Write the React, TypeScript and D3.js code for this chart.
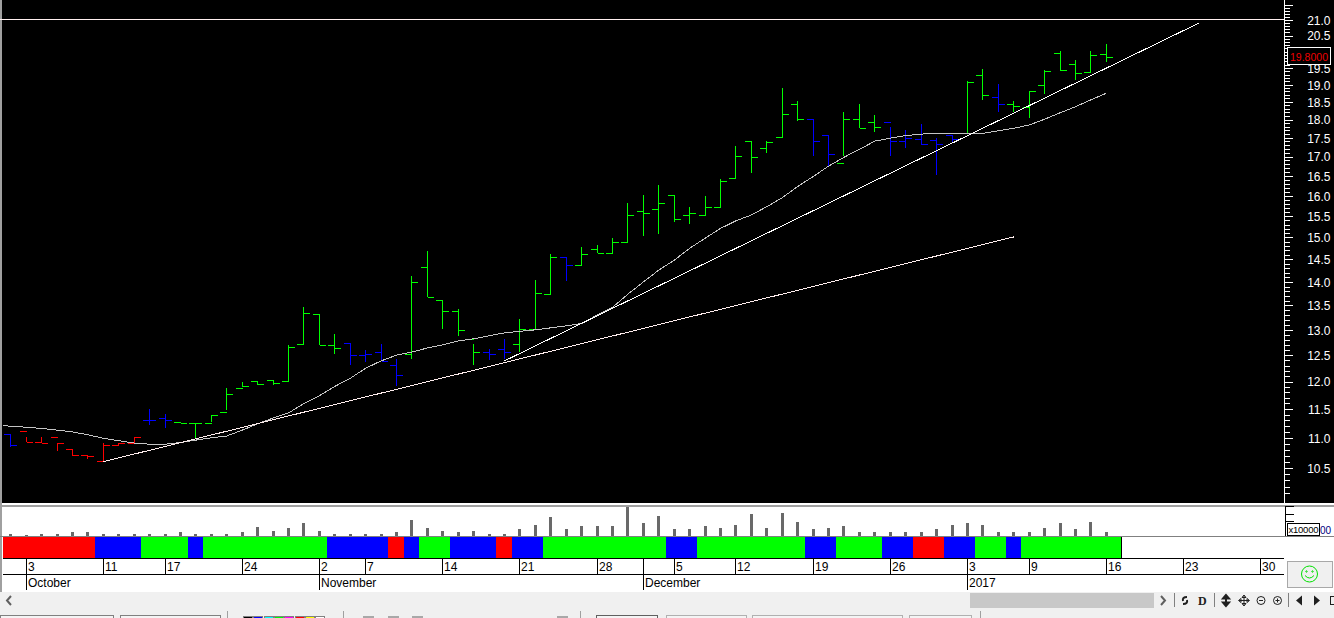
import React, { useEffect, useRef } from 'react';
import * as d3 from 'd3';

const W = 1334;
const H = 618;

// Daily bars, left to right
const opens = [11.06, 11.11, 10.92, 11.01, 10.81, 10.71, 10.61, 10.87, 10.91, 11.3, 11.34, 11.27, 11.25, 11.24, 11.43, 11.88, 12.0, 12.02, 12.0, 12.71, 13.32, 12.69, 12.72, 12.5, 12.56, 12.31, 12.52, 14.32, 13.61, 13.38, 12.8, 12.56, 12.61, 12.71, 13.01, 13.74, 14.55, 14.35, 14.71, 14.64, 14.87, 15.62, 15.67, 16.01, 15.52, 15.52, 15.72, 16.42, 17.41, 17.22, 17.51, 18.43, 18.01, 17.56, 16.82, 18.01, 17.93, 17.93, 17.41, 17.46, 17.43, 17.57, 17.62, 19.28, 18.64, 18.42, 18.35, 18.98, 19.93, 19.61, 19.35, 19.91];
const highs = [11.06, 11.01, 11.01, 10.91, 10.81, 10.71, 10.91, 10.91, 11.01, 11.5, 11.41, 11.27, 11.25, 11.4, 11.88, 12.0, 12.0, 12.02, 12.69, 13.46, 13.32, 12.92, 12.72, 12.6, 12.72, 12.42, 14.12, 14.69, 13.61, 13.42, 12.72, 12.62, 12.81, 13.22, 14.04, 14.62, 14.55, 14.77, 14.82, 14.98, 15.82, 16.02, 16.27, 16.01, 15.72, 15.99, 16.42, 17.28, 17.41, 17.42, 18.9, 18.52, 18.01, 17.56, 18.21, 18.43, 18.12, 17.79, 17.71, 17.87, 17.49, 17.57, 19.11, 19.47, 19.02, 18.52, 18.82, 19.44, 20.01, 19.73, 20.01, 20.24];
const lows = [10.84, 10.92, 10.91, 10.77, 10.7, 10.65, 10.61, 10.87, 10.91, 11.22, 11.17, 11.25, 10.99, 11.28, 11.48, 11.89, 11.94, 11.93, 12.0, 12.71, 12.69, 12.52, 12.31, 12.36, 12.38, 11.92, 12.43, 13.67, 13.02, 12.88, 12.32, 12.41, 12.42, 12.56, 13.02, 13.74, 14.03, 14.35, 14.64, 14.64, 14.87, 15.04, 15.09, 15.35, 15.32, 15.52, 15.72, 16.42, 16.58, 17.1, 17.51, 17.95, 17.02, 16.74, 17.01, 17.76, 17.65, 17.02, 17.23, 17.31, 16.52, 17.35, 17.62, 18.54, 18.22, 18.22, 18.05, 18.74, 19.4, 19.15, 19.35, 19.69];
const closes = [10.87, 10.92, 10.91, 10.91, 10.71, 10.69, 10.87, 10.91, 11.01, 11.3, 11.3, 11.25, 11.24, 11.39, 11.77, 11.91, 11.95, 11.97, 12.65, 13.34, 12.69, 12.63, 12.5, 12.52, 12.38, 12.12, 13.99, 13.67, 13.38, 12.99, 12.56, 12.52, 12.56, 13.01, 13.76, 14.55, 14.36, 14.61, 14.64, 14.87, 15.52, 15.57, 15.81, 15.43, 15.57, 15.72, 16.36, 17.01, 16.98, 17.38, 18.15, 18.01, 17.41, 17.05, 18.01, 17.76, 17.79, 17.41, 17.49, 17.32, 17.33, 17.46, 19.05, 18.69, 18.42, 18.38, 18.79, 19.4, 19.42, 19.32, 19.88, 19.82];
const barRuns: [number, string][] = [[1, 'blue'], [8, 'red'], [2, 'blue'], [11, 'green'], [4, 'blue'], [5, 'green'], [2, 'blue'], [3, 'green'], [1, 'blue'], [15, 'green'], [2, 'blue'], [3, 'green'], [5, 'blue'], [2, 'green'], [1, 'blue'], [7, 'green']];

// Moving average, first value sits one bar before the first bar
const maValues = [11.21, 11.2, 11.18, 11.16, 11.13, 11.1, 11.05, 10.99, 10.95, 10.91, 10.89, 10.89, 10.92, 10.96, 11.0, 11.03, 11.13, 11.24, 11.34, 11.43, 11.6, 11.74, 11.91, 12.06, 12.25, 12.39, 12.5, 12.56, 12.64, 12.7, 12.78, 12.82, 12.88, 12.94, 12.97, 13.0, 13.04, 13.08, 13.13, 13.3, 13.46, 13.74, 14.0, 14.26, 14.48, 14.75, 14.98, 15.21, 15.39, 15.53, 15.73, 15.95, 16.23, 16.48, 16.75, 16.98, 17.19, 17.41, 17.49, 17.56, 17.6, 17.62, 17.63, 17.62, 17.62, 17.69, 17.76, 17.85, 18.01, 18.19, 18.36, 18.56, 18.75];

// Trend lines as [bar index, price]
const trendLower: [number, number][] = [[6, 10.6], [65, 15.01]];
const trendUpper: [number, number][] = [[32, 12.39], [77, 20.9]];
const ceilingPrice = 21.02;
const lastPrice = 19.8;

// Volume, in x10000
const volumes = [33, 20, 33, 33, 47, 60, 33, 33, 33, 33, 33, 47, 33, 33, 33, 47, 123, 73, 109, 167, 73, 33, 33, 33, 33, 60, 216, 109, 73, 60, 73, 33, 33, 100, 153, 260, 100, 140, 127, 127, 393, 180, 273, 87, 87, 140, 113, 153, 300, 113, 313, 193, 87, 113, 140, 60, 60, 60, 47, 60, 87, 153, 180, 153, 47, 60, 60, 113, 167, 100, 193, 60];
const volumeTicks = [200, 300, 400];

// Colour strip under the volume
const stripRuns: [number, string][] = [[6, 'red'], [3, 'blue'], [3, 'green'], [1, 'blue'], [8, 'green'], [4, 'blue'], [1, 'red'], [1, 'blue'], [2, 'green'], [3, 'blue'], [1, 'red'], [2, 'blue'], [8, 'green'], [2, 'blue'], [7, 'green'], [2, 'blue'], [3, 'green'], [2, 'blue'], [2, 'red'], [2, 'blue'], [2, 'green'], [1, 'blue'], [6, 'green']];

// Date rows
const dayLabels = ['3', '11', '17', '24', '2', '7', '14', '21', '28', '5', '12', '19', '26', '3', '9', '16', '23', '30'];
const dayIndex = [1, 6, 10, 15, 20, 23, 28, 33, 38, 43, 47, 52, 57, 62, 66, 71, 76, 81];
const dayRules = [41]; // 1st of December gets a rule and no label
const monthLabels = ['October', 'November', 'December', '2017'];
const monthIndex = [1, 20, 41, 62];

const colours: Record<string, string> = { red: '#ff0000', blue: '#0000ff', green: '#00ff00' };
const FONT = '"Liberation Sans", Arial, sans-serif';

export default function App() {
  const svgRef = useRef<SVGSVGElement>(null);

  useEffect(() => {
    document.body.style.margin = '0';
    document.body.style.overflow = 'hidden';
    drawChart();
  }, []);

  const drawChart = () => {
    const svg = d3.select(svgRef.current);
    svg.selectAll('*').remove();
    svg.attr('width', W).attr('height', H).style('font-family', FONT);

    const plotLeft = 3;
    const plotRight = 1284;
    const plotBottom = 503;

    const x = d3.scaleLinear().domain([0, 81]).range([10.8, 1260.6]);
    const y = d3.scaleLog().domain([21, 10.5]).range([20, 467.8]);
    const yVol = d3.scaleLinear().domain([0, 400]).range([536, 506]);
    const px = (v: number) => Math.floor(v) + 0.5;

    // backgrounds
    svg.append('rect').attr('width', W).attr('height', H).attr('fill', '#f0f0f0');
    svg.append('rect').attr('width', W).attr('y', 503).attr('height', 89).attr('fill', '#ffffff');
    svg.append('rect').attr('width', W).attr('height', plotBottom).attr('fill', '#000000');
    svg.append('rect').attr('width', plotLeft - 1).attr('height', 592).attr('fill', '#a0a0a0');
    svg.append('rect').attr('y', 505).attr('width', W).attr('height', 2).attr('fill', '#a0a0a0');

    svg.append('defs').append('clipPath').attr('id', 'plot-clip')
      .append('rect').attr('x', plotLeft).attr('width', plotRight - plotLeft).attr('height', plotBottom);

    const g = svg.append('g').attr('clip-path', 'url(#plot-clip)').attr('shape-rendering', 'crispEdges');

    // OHLC bars
    const barColours = barRuns.flatMap(([n, c]) => d3.range(n).map(() => colours[c]));
    const bars = g.selectAll('.bar').data(opens).enter().append('g').attr('class', 'bar')
      .attr('stroke', (_, i) => barColours[i]).attr('stroke-width', 1);
    bars.append('line')
      .attr('x1', (_, i) => px(x(i))).attr('x2', (_, i) => px(x(i)))
      .attr('y1', (_, i) => y(highs[i])).attr('y2', (_, i) => y(lows[i]));
    bars.append('line')
      .attr('x1', (_, i) => px(x(i)) - 6.5).attr('x2', (_, i) => px(x(i)))
      .attr('y1', (d) => px(y(d))).attr('y2', (d) => px(y(d)));
    bars.append('line')
      .attr('x1', (_, i) => px(x(i))).attr('x2', (_, i) => px(x(i)) + 6.5)
      .attr('y1', (_, i) => px(y(closes[i]))).attr('y2', (_, i) => px(y(closes[i])));

    // moving average and trend lines
    const maLine = d3.line<number>().x((_, i) => x(i - 1)).y((d) => y(d));
    g.append('path').attr('d', maLine(maValues)).attr('fill', 'none').attr('stroke', '#c4c4c4');
    const trend = d3.line<[number, number]>().x((d) => x(d[0])).y((d) => y(d[1]));
    g.append('path').attr('d', trend(trendLower)).attr('fill', 'none').attr('stroke', '#ffeeee');
    g.append('path').attr('d', trend(trendUpper)).attr('fill', 'none').attr('stroke', '#ffffff');
    svg.append('line').attr('x1', 0).attr('x2', plotRight)
      .attr('y1', px(y(ceilingPrice))).attr('y2', px(y(ceilingPrice))).attr('stroke', '#fff0f0');

    // price axis, the 20.0 label sits under the last price tag
    const allTicks = d3.range(101, 216).map((v) => v / 10);
    const isMajor = (v: number) => Math.abs(v * 2 - Math.round(v * 2)) < 1e-6;
    const axisG = svg.append('g').attr('transform', `translate(${plotRight + 0.5},0)`);
    axisG.call(d3.axisRight(y).tickValues(allTicks).tickSize(5).tickFormat(() => ''));
    axisG.selectAll('.tick line')
      .attr('x2', (d: any) => (isMajor(d) ? 8 : 5)).attr('stroke', '#ffffff').attr('shape-rendering', 'crispEdges');
    axisG.select('.domain').remove();
    axisG.append('line').attr('y1', 0).attr('y2', plotBottom).attr('stroke', '#ffffff');
    axisG.selectAll('.tick text')
      .filter((d: any) => isMajor(d) && d <= 21 && d >= 10.5 && d !== 20)
      .text((d: any) => d.toFixed(1))
      .attr('x', 46).attr('y', 0.5).attr('text-anchor', 'end')
      .style('font-family', FONT).style('font-size', '12px').attr('fill', '#ffffff');

    // last price tag
    svg.append('rect').attr('x', 1287.5).attr('y', px(y(lastPrice)) - 11).attr('width', 43).attr('height', 17)
      .attr('fill', '#000000').attr('stroke', '#ffffff').attr('shape-rendering', 'crispEdges');
    svg.append('text').attr('x', 1309).attr('y', px(y(lastPrice)) + 2).attr('text-anchor', 'middle')
      .style('font-size', '10.5px').attr('fill', '#ee0000').text(lastPrice.toFixed(4));

    // volume
    const volG = svg.append('g').attr('shape-rendering', 'crispEdges');
    volG.selectAll('rect').data(volumes).enter().append('rect')
      .attr('x', (_, i) => Math.floor(x(i)) - 1).attr('width', 3)
      .attr('y', (d) => yVol(d)).attr('height', (d) => yVol(0) - yVol(d))
      .attr('fill', '#696969');
    volG.append('line').attr('x1', 0).attr('x2', W).attr('y1', 536.5).attr('y2', 536.5).attr('stroke', '#808080');

    const volAxis = svg.append('g').attr('transform', `translate(${plotRight + 1.5},0)`).attr('shape-rendering', 'crispEdges');
    volAxis.call(d3.axisRight(yVol).tickValues(volumeTicks).tickSize(8).tickFormat(() => ''));
    volAxis.select('.domain').remove();
    volAxis.selectAll('.tick line').attr('stroke', '#000000');
    volAxis.append('line').attr('y1', 506).attr('y2', 536).attr('stroke', '#000000');
    svg.append('rect').attr('x', 1287.5).attr('y', 523.5).attr('width', 32).attr('height', 12)
      .attr('fill', '#ffffff').attr('stroke', '#000000').attr('shape-rendering', 'crispEdges');
    svg.append('text').attr('x', 1288.5).attr('y', 533).attr('textLength', 30).style('font-size', '9.5px').attr('fill', '#000000').text('x10000');
    svg.append('text').attr('x', 1320).attr('y', 534).style('font-size', '10px').attr('fill', '#000080').text('00');

    // colour strip
    let start = 0;
    const stripG = svg.append('g').attr('shape-rendering', 'crispEdges');
    stripRuns.forEach(([n, c], k) => {
      const end = start + n;
      const x0 = k === 0 ? plotLeft : Math.floor(x(start - 0.5));
      const x1 = k === stripRuns.length - 1 ? Math.floor(x(end)) : Math.floor(x(end - 0.5));
      stripG.append('rect').attr('x', x0).attr('y', 537).attr('width', x1 - x0).attr('height', 21).attr('fill', colours[c]);
      stripG.append('line').attr('x1', x1 + 0.5).attr('x2', x1 + 0.5).attr('y1', 537).attr('y2', 558).attr('stroke', '#000000');
      start = end;
    });

    // date rows
    const rows = svg.append('g').attr('shape-rendering', 'crispEdges').attr('stroke', '#000000');
    rows.append('line').attr('x1', plotLeft).attr('x2', plotRight).attr('y1', 558.5).attr('y2', 558.5);
    rows.append('line').attr('x1', plotLeft).attr('x2', plotRight).attr('y1', 574.5).attr('y2', 574.5);
    [...dayIndex, ...dayRules].forEach((d) => {
      rows.append('line').attr('x1', px(x(d))).attr('x2', px(x(d))).attr('y1', 559).attr('y2', 574);
    });
    monthIndex.forEach((d) => {
      rows.append('line').attr('x1', px(x(d))).attr('x2', px(x(d))).attr('y1', 575).attr('y2', 590);
    });
    dayLabels.forEach((t, k) => {
      svg.append('text').attr('x', px(x(dayIndex[k])) + 1.5).attr('y', 571).style('font-size', '12px').attr('fill', '#000000').text(t);
    });
    monthLabels.forEach((t, k) => {
      svg.append('text').attr('x', px(x(monthIndex[k])) + 1.5).attr('y', 587).style('font-size', '12px').attr('fill', '#000000').text(t);
    });

    // smiley box
    svg.append('rect').attr('x', 1287.5).attr('y', 561.5).attr('width', 45).attr('height', 26)
      .attr('fill', '#f0f0f0').attr('stroke', '#a8a8a8').attr('shape-rendering', 'crispEdges');
    const smile = svg.append('g').attr('transform', 'translate(1309.5,574)').attr('fill', 'none').attr('stroke', '#00e000');
    smile.append('circle').attr('r', 8);
    smile.append('circle').attr('cx', -3).attr('cy', -2.5).attr('r', 0.7);
    smile.append('circle').attr('cx', 3).attr('cy', -2.5).attr('r', 0.7);
    smile.append('path').attr('d', 'M-4.5,1.5 Q0,6.5 4.5,1.5');

    // scroll bar and toolbar
    const bar = svg.append('g').attr('shape-rendering', 'crispEdges');
    bar.append('rect').attr('x', 970).attr('y', 593).attr('width', 184).attr('height', 15).attr('fill', '#c8c8c8');
    const chevron = (cx: number, dir: number) =>
      svg.append('path').attr('d', `M${cx + 2 * dir},596 L${cx - 2 * dir},600.5 L${cx + 2 * dir},605`)
        .attr('fill', 'none').attr('stroke', '#606060').attr('stroke-width', 2);
    chevron(9, 1);
    chevron(1163, -1);
    [1174, 1214, 1288].forEach((sx) => {
      bar.append('line').attr('x1', sx + 0.5).attr('x2', sx + 0.5).attr('y1', 593).attr('y2', 607).attr('stroke', '#808080');
    });
    const tools = svg.append('g').attr('fill', 'none').attr('stroke', '#202020');
    tools.append('path').attr('d', 'M1187,597 Q1182,597 1183,601 M1183,604 Q1188,604 1187,600').attr('stroke-width', 2);
    svg.append('text').attr('x', 1198).attr('y', 605).style('font-family', '"Liberation Serif", serif').style('font-size', '12px').style('font-weight', 'bold').attr('fill', '#202020').text('D');
    tools.append('path').attr('d', 'M1226,595 L1223,598.5 H1229 Z M1226,606 L1223,602.5 H1229 Z M1226,598 V603').attr('fill', '#202020').attr('stroke-width', 2);
    tools.append('path').attr('d', 'M1244,595.5 V605.5 M1239,600.5 H1249 M1244,595 L1242,597.5 H1246 Z M1244,606 L1242,603.5 H1246 Z M1238.5,600.5 L1241,598.5 V602.5 Z M1249.5,600.5 L1247,598.5 V602.5 Z');
    tools.append('circle').attr('cx', 1261).attr('cy', 600.5).attr('r', 4);
    tools.append('path').attr('d', 'M1259,600.5 H1263');
    tools.append('circle').attr('cx', 1277.5).attr('cy', 600.5).attr('r', 4);
    tools.append('path').attr('d', 'M1275.5,600.5 H1279.5 M1277.5,598.5 V602.5');
    svg.append('path').attr('d', 'M1302,595.5 V605.5 L1296,600.5 Z').attr('fill', '#202020');
    svg.append('path').attr('d', 'M1314,595.5 V605.5 L1320,600.5 Z').attr('fill', '#202020');
    tools.append('rect').attr('x', 1330.5).attr('y', 596.5).attr('width', 6).attr('height', 8).attr('shape-rendering', 'crispEdges');

    // bottom tab strip, cut off by the window
    const tabs = svg.append('g').attr('shape-rendering', 'crispEdges');
    const tabBoxes = [[0, 113, '#808080'], [120, 100, '#808080'], [596, 61, '#606060'], [666, 80, '#b0b0b0'], [752, 150, '#b0b0b0'], [909, 62, '#b0b0b0']] as [number, number, string][];
    tabBoxes.forEach(([tx, tw, c]) => {
      tabs.append('rect').attr('x', tx + 0.5).attr('y', 615.5).attr('width', tw).attr('height', 6).attr('fill', '#f4f4f4').attr('stroke', c);
    });
    [227, 343, 580, 980].forEach((sx) => {
      tabs.append('line').attr('x1', sx + 0.5).attr('x2', sx + 0.5).attr('y1', 611).attr('y2', H).attr('stroke', '#a0a0a0');
    });
    ['#000000', '#0000ff', '#00ffff', '#00ff00', '#ff00ff', '#ff0000', '#ffff00', '#ffffff'].forEach((c, k) => {
      tabs.append('rect').attr('x', 243.5 + k * 10.3).attr('y', 616.5).attr('width', 9).attr('height', 4).attr('fill', c).attr('stroke', '#808080');
    });
    [363, 388, 412, 557].forEach((sx) => {
      tabs.append('rect').attr('x', sx).attr('y', 616).attr('width', 11).attr('height', 2).attr('fill', '#a8a8a8');
    });
  };

  return <svg ref={svgRef} style={{ position: 'fixed', left: 0, top: 0, display: 'block' }}></svg>;
}
